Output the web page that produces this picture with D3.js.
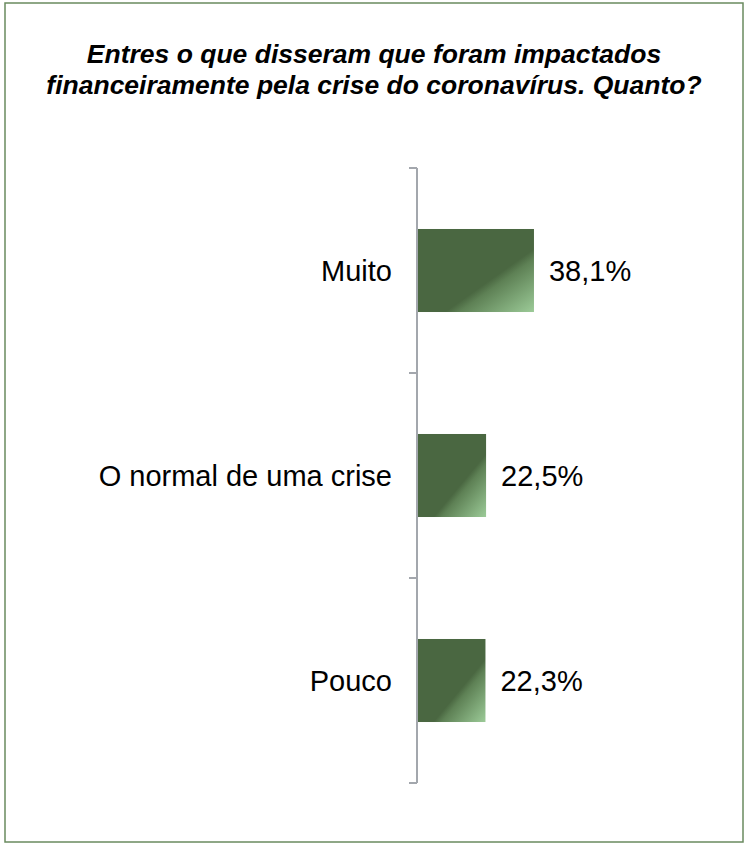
<!DOCTYPE html>
<html>
<head>
<meta charset="utf-8">
<script src="https://cdn.jsdelivr.net/npm/d3@7"></script>
<style>
  body { margin: 0; background: #fff; }
  svg { display: block; font-family: "Liberation Sans", Arial, sans-serif; }
</style>
</head>
<body>
<div id="chart"></div>
<script>
  // Data
  const categories = ['Muito', 'O normal de uma crise', 'Pouco'];
  const values = [38.1, 22.5, 22.3];
  const valueLabels = ['38,1%', '22,5%', '22,3%'];
  const titleLines = [
    'Entres o que disseram que foram impactados',
    'financeiramente pela crise do coronavírus. Quanto?'
  ];

  const W = 746, H = 843;
  const axisX = 417;
  const plotTop = 168, plotBottom = 783;

  const svg = d3.select('#chart')
    .append('svg')
    .attr('width', W)
    .attr('height', H);

  // Outer frame
  svg.append('rect')
    .attr('x', 5).attr('y', 3)
    .attr('width', 738).attr('height', 839)
    .attr('fill', '#fff')
    .attr('stroke', '#6a8a5f')
    .attr('stroke-width', 1.5);

  // Title
  svg.append('text')
    .attr('x', 374)
    .attr('text-anchor', 'middle')
    .style('font-size', '26.5px')
    .style('font-weight', 'bold')
    .style('font-style', 'italic')
    .style('fill', '#000')
    .selectAll('tspan')
    .data(titleLines)
    .enter()
    .append('tspan')
    .attr('x', 374)
    .attr('y', (d, i) => 63 + i * 31)
    .text(d => d);

  // Gradient for bars
  const grad = svg.append('defs')
    .append('linearGradient')
    .attr('id', 'bar-grad')
    .attr('x1', 0).attr('y1', 0)
    .attr('x2', 1).attr('y2', 1);
  grad.append('stop').attr('offset', '0%').attr('stop-color', '#4a6741');
  grad.append('stop').attr('offset', '62%').attr('stop-color', '#4a6741');
  grad.append('stop').attr('offset', '68%').attr('stop-color', '#5e8155');
  grad.append('stop').attr('offset', '100%').attr('stop-color', '#9ccb98');

  // Scales
  const y = d3.scaleBand()
    .domain(categories)
    .range([plotTop, plotBottom])
    .paddingInner(0.595)
    .paddingOuter(0.2975);

  const x = d3.scaleLinear()
    .domain([0, 50])
    .range([axisX, axisX + 153.5]);

  // Bars
  svg.selectAll('.bar')
    .data(values)
    .enter()
    .append('rect')
    .attr('class', 'bar')
    .attr('x', x(0))
    .attr('y', (d, i) => y(categories[i]))
    .attr('width', d => x(d) - x(0))
    .attr('height', y.bandwidth())
    .attr('fill', 'url(#bar-grad)');

  // Axis line with ticks between categories
  const tickYs = d3.range(categories.length + 1).map(i => plotTop + i * (plotBottom - plotTop) / categories.length);
  const axisG = svg.append('g').attr('stroke', '#a3a7ad').attr('stroke-width', 2);
  axisG.append('line')
    .attr('x1', axisX).attr('x2', axisX)
    .attr('y1', plotTop).attr('y2', plotBottom);
  axisG.selectAll('.tick')
    .data(tickYs)
    .enter()
    .append('line')
    .attr('x1', axisX - 8).attr('x2', axisX)
    .attr('y1', d => d).attr('y2', d => d);

  // Category labels
  svg.selectAll('.cat')
    .data(categories)
    .enter()
    .append('text')
    .attr('x', axisX - 25)
    .attr('y', d => y(d) + y.bandwidth() / 2)
    .attr('dy', '0.35em')
    .attr('text-anchor', 'end')
    .style('font-size', '29px')
    .style('fill', '#000')
    .text(d => d);

  // Value labels
  svg.selectAll('.val')
    .data(values)
    .enter()
    .append('text')
    .attr('x', d => x(d) + 15)
    .attr('y', (d, i) => y(categories[i]) + y.bandwidth() / 2)
    .attr('dy', '0.35em')
    .style('font-size', '29px')
    .style('fill', '#000')
    .text((d, i) => valueLabels[i]);
</script>
</body>
</html>
